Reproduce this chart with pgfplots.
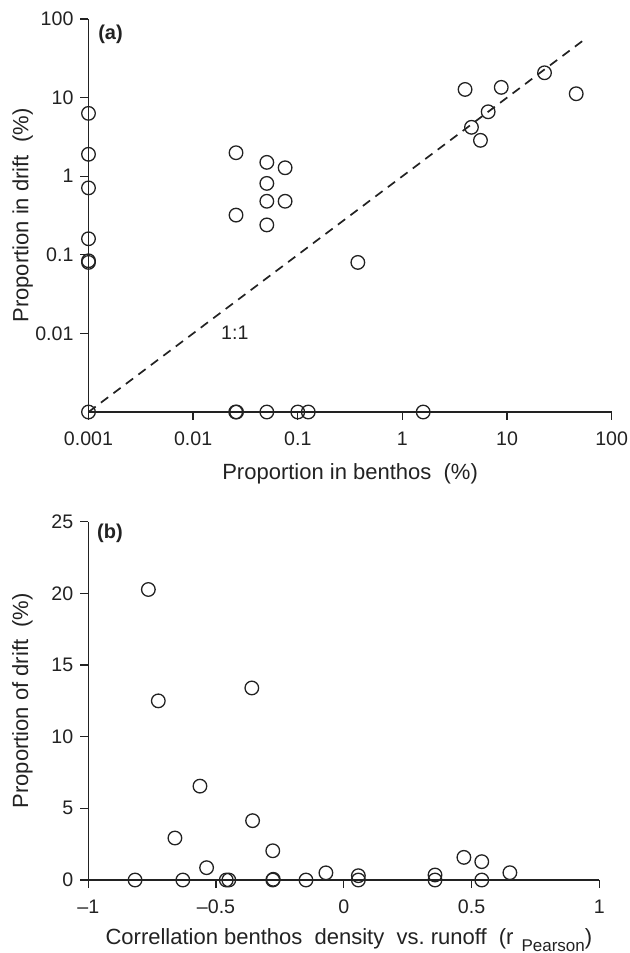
\documentclass[border=0pt]{standalone}
\usepackage{pgfplots}
\pgfplotsset{compat=1.18}
\usepackage{fontspec}
\setmainfont{Liberation Sans}
\definecolor{ink}{HTML}{222222}

\pgfplotstableread{
x y
0.001 6.3
0.001 1.9
0.001 0.71
0.001 0.16
0.001 0.080
0.001 0.084
0.001 0.001
0.0257 1.99
0.0506 1.5
0.0757 1.28
0.0506 0.81
0.0506 0.48
0.0757 0.48
0.0257 0.32
0.0506 0.24
0.375 0.08
3.97 12.7
8.8 13.5
22.8 20.7
45.8 11.2
6.6 6.6
4.57 4.19
5.57 2.86
0.0255 0.001
0.0260 0.001
0.0506 0.001
0.1 0.001
0.126 0.001
1.58 0.001
}\dataA

\pgfplotstableread{
x y
-0.765 20.27
-0.726 12.5
-0.36 13.4
-0.563 6.55
-0.661 2.93
-0.357 4.14
-0.278 2.04
-0.537 0.86
-0.817 0
-0.63 0
-0.46 0
-0.45 0
-0.278 0
-0.276 0.05
-0.148 0
-0.07 0.5
0.057 0.3
0.057 0
0.357 0.35
0.357 0
0.47 1.58
0.54 1.28
0.54 0
0.65 0.51
}\dataB

\begin{document}
\begin{tikzpicture}
\path[use as bounding box] (0,0) rectangle (315pt,-476.5pt);
\pgfplotsset{
 common/.style={
  scale only axis, clip=false,
  axis lines=left, axis line style={-, line width=0.65pt, draw=ink},
  tick align=outside, major tick length=4pt,
  every tick/.style={line width=0.65pt, draw=ink},
  xminorticks=false, yminorticks=false,
  ticklabel style={font=\fontsize{9.8}{11}\selectfont, text=ink},
  xticklabel style={yshift=-2.5pt},
  label style={font=\fontsize{11}{13}\selectfont, text=ink},
 },
 pts/.style={only marks, mark=o, mark size=3.4pt, mark options={line width=0.65pt, draw=ink}},
}
\begin{axis}[common, xmode=log, ymode=log,
 width=261.6pt, height=196.5pt, at={(44.25pt,-206pt)}, anchor=south west,
 xmin=0.001, xmax=100, ymin=0.001, ymax=100,
 xtick={0.001,0.01,0.1,1,10,100}, xticklabels={0.001,0.01,0.1,1,10,100},
 ytick={0.01,0.1,1,10,100}, yticklabels={0.01,0.1,1,10,100},
 xlabel={Proportion in benthos\ \ (\%)}, ylabel={Proportion in drift\ \ (\%)},
 xlabel style={at={(axis description cs:0.5,-0.172)}, anchor=base},
 ylabel style={at={(axis description cs:-0.126,0.5)}, anchor=center},
]
\addplot[dash pattern=on 4.5pt off 3.3pt, line width=0.85pt, draw=ink] coordinates {(0.001,0.001) (55,55)};
\addplot[pts] table[x=x,y=y] {\dataA};
\node[font=\fontsize{9.8}{11}\selectfont, text=ink] at (axis cs:0.025,0.0101) {1:1};
\node[font=\fontsize{10}{12}\selectfont\bfseries, text=ink] at (rel axis cs:0.042,0.962) {(a)};
\end{axis}

\begin{axis}[common,
 width=255.5pt, height=179.15pt, at={(44.15pt,-440pt)}, anchor=south west,
 xmin=-1, xmax=1, ymin=0, ymax=25,
 xtick={-1,-0.5,0,0.5,1}, xticklabels={--1,--0.5,0,0.5,1},
 ytick={0,5,10,15,20,25}, yticklabels={0,5,10,15,20,25},
 xlabel={Correllation benthos\ \ density\ \ vs.\ runoff\ \ (r\hspace{4pt}\raisebox{-3.3pt}{\fontsize{8.5}{10}\selectfont Pearson})},
 ylabel={Proportion of drift\ \ (\%)},
 xlabel style={at={(axis description cs:0.51,-0.181)}, anchor=base},
 ylabel style={at={(axis description cs:-0.129,0.5)}, anchor=center},
]
\addplot[pts] table[x=x,y=y] {\dataB};
\node[font=\fontsize{10}{12}\selectfont\bfseries, text=ink] at (rel axis cs:0.0425,0.967) {(b)};
\end{axis}
\end{tikzpicture}
\end{document}
